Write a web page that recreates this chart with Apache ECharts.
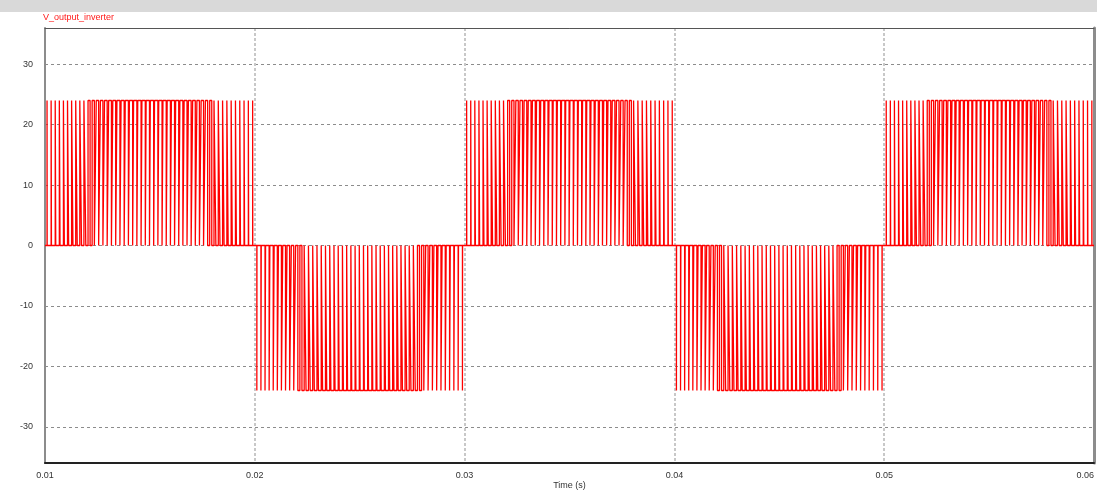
<!DOCTYPE html>
<html>
<head>
<meta charset="utf-8">
<script src="https://cdn.jsdelivr.net/npm/echarts@6/dist/echarts.min.js"></script>
<style>
html,body{margin:0;padding:0;background:#fff;}
#chart{width:1097px;height:490px;}
</style>
</head>
<body>
<div id="chart"></div>
<script>
// ---- data ----
const seriesName = 'V_output_inverter';
const xTickLabels = ['0.01', '0.02', '0.03', '0.04', '0.05', '0.06'];
const yTickLabels = ['-30', '-20', '-10', '0', '10', '20', '30'];
// start time of each half cycle (s) and its polarity
const halfCycleStarts = [0.01, 0.02, 0.03, 0.04, 0.05];
const halfCycleSigns = [1, -1, 1, -1, 1];
const halfCycleLength = 0.01;
const pulseLevel = 24; // V
// estimated duty ratio of each PWM pulse within one half cycle (50 pulses)
const pulseDuty = [
  0.03, 0.08, 0.13, 0.17, 0.22, 0.27, 0.32, 0.36, 0.41, 0.45,
  0.49, 0.53, 0.57, 0.60, 0.63, 0.66, 0.69, 0.71, 0.73, 0.75,
  0.77, 0.78, 0.79, 0.80, 0.80, 0.80, 0.80, 0.79, 0.78, 0.77,
  0.75, 0.73, 0.71, 0.69, 0.66, 0.63, 0.60, 0.57, 0.53, 0.49,
  0.45, 0.41, 0.36, 0.32, 0.27, 0.22, 0.17, 0.13, 0.08, 0.03
];

// ---- build the step waveform from the pulses ----
const wave = [[halfCycleStarts[0], 0]];
halfCycleStarts.forEach((t0, h) => {
  const T = halfCycleLength / pulseDuty.length;
  const v = pulseLevel * halfCycleSigns[h];
  pulseDuty.forEach((d, k) => {
    const tc = t0 + (k + 0.5) * T;
    const w = d * T;
    const r = tc - w / 2, f = tc + w / 2;
    wave.push([r, 0], [r, v], [f, v], [f, 0]);
  });
});
wave.push([halfCycleStarts[halfCycleStarts.length - 1] + halfCycleLength, 0]);

const font = 'Liberation Sans, Arial, sans-serif';
const chart = echarts.init(document.getElementById('chart'), null, {renderer: 'canvas'});
chart.setOption({
  animation: false,
  backgroundColor: '#ffffff',
  graphic: [{
    type: 'rect', left: 0, top: 0, z: -10,
    shape: {width: 1097, height: 12},
    style: {fill: '#d9d9d9'}
  }],
  title: {
    text: seriesName, left: 43, top: 13, padding: 0,
    textStyle: {color: '#ff1a1a', fontSize: 9, fontWeight: 'normal', fontFamily: font}
  },
  grid: {left: 45, right: 3, top: 28, bottom: 27, show: false, containLabel: false, outerBoundsMode: 'none'},
  xAxis: [{
    type: 'value', min: 0.01, max: 0.06, interval: 0.01,
    name: 'Time (s)', nameLocation: 'middle', nameGap: 18, nameMoveOverlap: false,
    nameTextStyle: {color: '#333', fontSize: 9, fontFamily: font},
    axisLine: {show: true, onZero: false, lineStyle: {color: '#222', width: 2}},
    axisTick: {show: false},
    axisLabel: {
      color: '#333', fontSize: 9, fontFamily: font, margin: 8, alignMaxLabel: 'right',
      formatter: v => { const s = v.toFixed(2); return xTickLabels.includes(s) ? s : ''; }
    },
    splitLine: {show: true, lineStyle: {color: '#c8c8c8', width: 2, type: [3, 2]}}
  }, {
    type: 'value', position: 'top', min: 0.01, max: 0.06,
    axisLine: {show: true, onZero: false, lineStyle: {color: '#555', width: 1}},
    axisTick: {show: false}, axisLabel: {show: false}, splitLine: {show: false}
  }],
  yAxis: [{
    type: 'value', min: -36, max: 36, splitNumber: 7,
    axisLine: {show: true, onZero: false, lineStyle: {color: '#8c8c8c', width: 2}},
    axisTick: {show: false},
    axisLabel: {
      color: '#333', fontSize: 9, fontFamily: font, margin: 12,
      formatter: v => { const s = String(Math.round(v)); return (yTickLabels.includes(s) && Math.abs(v - Math.round(v)) < 1e-6) ? s : ''; }
    },
    splitLine: {show: true, lineStyle: {color: '#8c8c8c', width: 1, type: [3, 3]}}
  }, {
    type: 'value', position: 'right', min: -36, max: 36,
    axisLine: {show: true, onZero: false, lineStyle: {color: '#8c8c8c', width: 3}},
    axisTick: {show: false}, axisLabel: {show: false}, splitLine: {show: false}
  }],
  series: [{
    name: seriesName, type: 'line', data: wave,
    xAxisIndex: 0, yAxisIndex: 0,
    showSymbol: false, symbol: 'none', sampling: null,
    lineStyle: {color: '#ff0000', width: 1.3},
    z: 5
  }]
});
</script>
</body>
</html>
